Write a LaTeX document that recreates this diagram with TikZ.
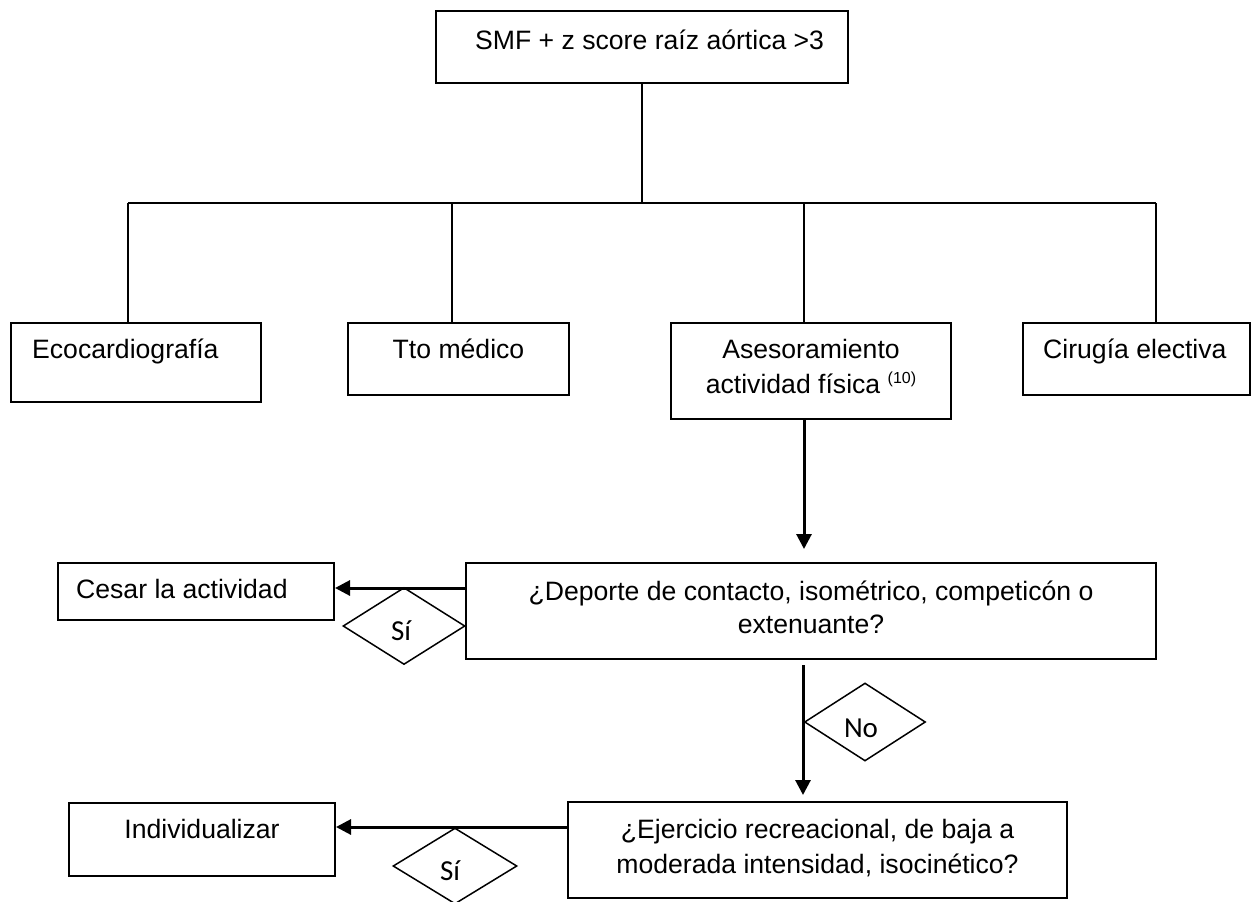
\documentclass[tikz,border=0pt]{standalone}
\usepackage{fontspec}
\setmainfont{Liberation Sans}
\newfontfamily\calib{Carlito}
\usetikzlibrary{arrows.meta,shapes.geometric,calc}
\newcommand\rbox[5]{\node[box, minimum width={#4pt-#2pt}, minimum height={#5pt-#3pt}] (#1) at ({(#2+#4)/2},{(#3+#5)/2}) {};}
\begin{document}
\begin{tikzpicture}[x=1pt,y=-1pt,
  box/.style={draw, line width=2pt, inner sep=0pt, rectangle},
  txt/.style={inner sep=0pt, font=\fontsize{26.6pt}{32pt}\selectfont},
  tree/.style={line width=1.8pt},
  arr/.style={line width=3pt, -{Triangle[length=15pt,width=15pt]}},
  dia/.style={draw, diamond, line width=1.5pt, inner sep=0pt},
  dl/.style={inner sep=0pt, font=\calib\fontsize{29pt}{32pt}\selectfont}]
\useasboundingbox (0,0) rectangle (1256,902);
% boxes
\rbox{top}{436}{11}{848}{83}
\rbox{eco}{11}{323}{261}{402}
\rbox{tto}{348}{323}{569}{395}
\rbox{ases}{671}{323}{951}{419}
\rbox{cir}{1023}{323}{1250}{395}
\rbox{cesar}{58}{563}{334}{620}
\rbox{q1}{466}{563}{1156}{659}
\rbox{ind}{69}{803}{335}{876}
\rbox{q2}{568}{802}{1067}{898}
% texts
\node[txt, anchor=base west] (ttop) at (475,49) {SMF + z score raíz aórtica >3};
\node[txt, anchor=base west] (teco) at (32,358) {Ecocardiografía};
\node[txt, anchor=base] (ttto) at (458.5,358) {Tto médico};
\node[txt, anchor=base] (tases1) at (811,358) {Asesoramiento};
\node[txt, anchor=base] (tases2) at (811,393) {actividad física {\fontsize{16pt}{18pt}\selectfont\raisebox{10pt}{(10)}}};
\node[txt, anchor=base west] (tcir) at (1043,358) {Cirugía electiva};
\node[txt, anchor=base west] (tcesar) at (76,598) {Cesar la actividad};
\node[txt, anchor=base] (tq1a) at (811,600) {¿Deporte de contacto, isométrico, competicón o};
\node[txt, anchor=base] (tq1b) at (811,633) {extenuante?};
\node[txt, anchor=base] (tind) at (202,838) {Individualizar};
\node[txt, anchor=base] (tq2a) at (817.5,838) {¿Ejercicio recreacional, de baja a};
\node[txt, anchor=base] (tq2b) at (817.5,873) {moderada intensidad, isocinético?};
% tree
\coordinate (hub) at (642,203);
\coordinate (b1) at (128,203);
\coordinate (b2) at (452,203);
\coordinate (b3) at (804,203);
\coordinate (b4) at (1156,203);
\draw[tree] (top.south -| hub) -- (hub);
\draw[tree] (b1) -- (b4);
\draw[tree] (b1) -- (b1 |- eco.north);
\draw[tree] (b2) -- (b2 |- tto.north);
\draw[tree] (b3) -- (b3 |- ases.north);
\draw[tree] (b4) -- (b4 |- cir.north);
% arrows
\coordinate (t1) at (804,549);
\draw[arr] (t1 |- ases.south) -- (t1);
\coordinate (a1) at (0,588);
\draw[arr] (q1.west |- a1) -- (cesar.east |- a1);
\coordinate (t2) at (803,795);
\draw[arr] ($(t2 |- q1.south)+(0,5)$) -- (t2);
\coordinate (a2) at (0,827);
\draw[arr] (q2.west |- a2) -- (ind.east |- a2);
% diamonds
\node[dia, minimum width=122pt, minimum height=77pt] (d1) at (404,626) {};
\node[dia, minimum width=121pt, minimum height=78pt] (d2) at (865,722) {};
\node[dia, minimum width=124pt, minimum height=76pt] (d3) at (455,866) {};
\node[dl, anchor=base] (l1) at (401,640) {Sí};
\node[dl, anchor=base] (l2) at (861,737) {No};
\node[dl, anchor=base] (l3) at (450,880) {Sí};
\end{tikzpicture}
\end{document}
